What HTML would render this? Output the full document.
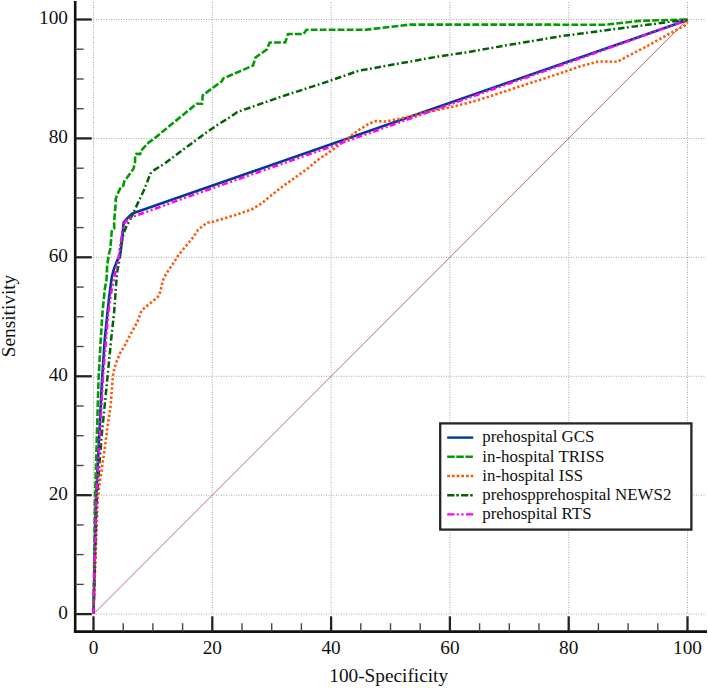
<!DOCTYPE html>
<html><head><meta charset="utf-8"><title>ROC curves</title>
<style>
html,body{margin:0;padding:0;background:#fff;}
body{width:708px;height:688px;overflow:hidden;position:relative;font-family:"Liberation Serif",serif;}
svg{position:absolute;left:0;top:0;}
</style></head><body>
<svg width="708" height="688" viewBox="0 0 708 688">
<line x1="93.5" y1="614.1" x2="705" y2="614.1" stroke="#a8a8a8" stroke-width="1" stroke-dasharray="1 1.5"/>
<line x1="93.5" y1="2" x2="93.5" y2="614.1" stroke="#a8a8a8" stroke-width="1" stroke-dasharray="1 1.5"/>
<line x1="93.5" y1="495.2" x2="705" y2="495.2" stroke="#a8a8a8" stroke-width="1" stroke-dasharray="1 1.5"/>
<line x1="212.3" y1="2" x2="212.3" y2="614.1" stroke="#a8a8a8" stroke-width="1" stroke-dasharray="1 1.5"/>
<line x1="93.5" y1="376.3" x2="705" y2="376.3" stroke="#a8a8a8" stroke-width="1" stroke-dasharray="1 1.5"/>
<line x1="331.1" y1="2" x2="331.1" y2="614.1" stroke="#a8a8a8" stroke-width="1" stroke-dasharray="1 1.5"/>
<line x1="93.5" y1="257.3" x2="705" y2="257.3" stroke="#a8a8a8" stroke-width="1" stroke-dasharray="1 1.5"/>
<line x1="449.9" y1="2" x2="449.9" y2="614.1" stroke="#a8a8a8" stroke-width="1" stroke-dasharray="1 1.5"/>
<line x1="93.5" y1="138.4" x2="705" y2="138.4" stroke="#a8a8a8" stroke-width="1" stroke-dasharray="1 1.5"/>
<line x1="568.7" y1="2" x2="568.7" y2="614.1" stroke="#a8a8a8" stroke-width="1" stroke-dasharray="1 1.5"/>
<line x1="93.5" y1="19.5" x2="705" y2="19.5" stroke="#a8a8a8" stroke-width="1" stroke-dasharray="1 1.5"/>
<line x1="687.5" y1="2" x2="687.5" y2="614.1" stroke="#a8a8a8" stroke-width="1" stroke-dasharray="1 1.5"/>
<line x1="93.5" y1="614.1" x2="687.5" y2="19.5" stroke="#b45048" stroke-width="0.85"/>
<polyline points="93.5,614.0 95.9,500.0 96.7,484.8 99.4,432.4 102.0,380.0 104.7,340.0 107.5,312.3 109.4,295.0 111.8,277.0 113.7,269.8 117.2,260.5 120.1,255.8 121.9,241.9 123.0,230.2 123.6,222.7 126.5,219.2 132.3,213.4 687.5,20.0" fill="none" stroke="#003a90" stroke-width="2.6" stroke-linejoin="round" stroke-linecap="butt"/>
<polyline points="93.5,614.0 95.0,500.0 96.7,441.1 98.5,380.0 100.7,340.0 102.5,312.3 104.8,289.0 106.5,280.0 107.2,265.0 108.9,254.0 110.3,249.0 111.2,238.0 111.7,231.2 112.4,229.4 114.2,228.6 114.1,222.7 115.0,210.4 115.6,205.0 115.7,199.1 117.1,194.8 121.3,186.3 123.2,185.9 124.2,181.6 131.7,171.2 133.6,168.4 135.1,161.7 135.1,155.1 136.5,153.7 140.3,154.2 141.2,150.4 148.8,142.4 153.8,139.0 165.0,129.7 196.5,103.8 202.1,103.8 202.7,95.3 221.9,81.2 223.3,78.4 253.0,65.6 255.5,57.5 266.8,49.5 269.7,42.5 285.2,42.5 288.0,34.0 303.6,34.0 306.4,29.8 365.7,29.8 409.5,24.6 605.5,24.7 639.1,20.9 687.5,19.5" fill="none" stroke="#049a04" stroke-width="2.6" stroke-linejoin="round" stroke-linecap="butt" stroke-dasharray="6.8 2.2"/>
<polyline points="93.5,614.0 97.6,500.0 99.4,484.8 102.0,467.3 104.6,449.9 107.2,428.9 110.6,406.0 112.2,385.1 112.8,377.6 113.4,372.9 114.5,367.7 117.4,359.5 120.9,351.4 123.8,347.3 127.9,339.2 132.0,331.6 134.3,327.6 137.2,322.3 141.5,310.6 148.7,304.5 155.9,298.7 159.2,295.5 160.5,290.8 162.5,282.3 163.8,277.9 168.3,270.6 173.6,262.8 178.1,255.6 184.0,248.4 189.9,241.2 193.2,237.2 198.1,229.8 207.1,222.7 213.9,221.5 236.5,214.7 252.3,209.1 261.4,203.4 279.4,188.8 306.6,169.3 318.4,159.5 325.7,154.7 333.1,149.3 340.7,143.6 349.8,136.6 359.7,129.4 369.5,123.5 375.5,121.1 385.4,121.5 401.7,118.3 411.3,116.2 419.8,113.8 429.4,111.6 438.4,109.8 450.8,107.1 463.3,104.1 478.0,100.2 560.0,73.3 579.8,66.4 598.6,61.4 617.3,61.8 625.3,57.5 650.0,44.6 671.5,32.6 686.3,24.8 687.5,20.5" fill="none" stroke="#ff5808" stroke-width="2.6" stroke-linejoin="round" stroke-linecap="butt" stroke-dasharray="2.4 2.2"/>
<polyline points="93.5,614.0 96.7,500.0 99.4,463.8 102.0,432.4 104.6,406.2 107.2,380.0 111.1,340.0 114.1,312.3 115.8,289.0 117.0,272.8 119.3,260.9 120.1,248.8 123.6,233.7 126.5,226.2 130.0,219.8 132.9,214.0 138.7,201.2 144.5,189.0 150.3,173.8 151.5,172.3 153.7,170.4 165.3,163.1 170.0,159.5 198.2,138.5 210.0,130.0 219.4,123.6 228.3,118.3 237.0,112.2 279.0,97.4 328.5,81.3 340.0,77.2 358.5,70.8 440.0,56.2 468.0,52.2 500.0,46.4 540.0,39.8 560.0,36.3 687.5,19.5" fill="none" stroke="#036003" stroke-width="2.5" stroke-linejoin="round" stroke-linecap="butt" stroke-dasharray="6.6 2.5 1.8 2.8"/>
<polyline points="93.5,614.0 96.2,500.0 97.2,484.8 100.0,432.4 102.8,380.0 106.0,340.0 108.3,312.3 111.8,289.0 113.7,280.0 116.0,269.8 119.0,254.7 121.3,238.4 123.6,224.4 125.9,221.2 131.6,217.0 152.5,209.7 180.0,199.6 340.0,143.5 470.0,97.3 560.0,65.6 687.5,20.0" fill="none" stroke="#ff00ff" stroke-width="2.5" stroke-linejoin="round" stroke-linecap="butt" stroke-dasharray="6 2.6 2 2.6 2 2.6"/>
<line x1="75.2" y1="1" x2="75.2" y2="632.8000000000001" stroke="#111" stroke-width="2.6"/>
<line x1="73.9" y1="631.6" x2="707" y2="631.6" stroke="#111" stroke-width="2.6"/>
<line x1="75.2" y1="614.1" x2="91.80000000000001" y2="614.1" stroke="#222" stroke-width="2.3"/>
<line x1="93.5" y1="631.6" x2="93.5" y2="616.3000000000001" stroke="#222" stroke-width="2.3"/>
<line x1="75.2" y1="584.4" x2="83.7" y2="584.4" stroke="#484848" stroke-width="1.4"/>
<line x1="123.2" y1="631.6" x2="123.2" y2="623.2" stroke="#484848" stroke-width="1.4"/>
<line x1="75.2" y1="554.6" x2="83.7" y2="554.6" stroke="#484848" stroke-width="1.4"/>
<line x1="152.9" y1="631.6" x2="152.9" y2="623.2" stroke="#484848" stroke-width="1.4"/>
<line x1="75.2" y1="524.9" x2="83.7" y2="524.9" stroke="#484848" stroke-width="1.4"/>
<line x1="182.6" y1="631.6" x2="182.6" y2="623.2" stroke="#484848" stroke-width="1.4"/>
<line x1="75.2" y1="495.2" x2="91.80000000000001" y2="495.2" stroke="#222" stroke-width="2.3"/>
<line x1="212.3" y1="631.6" x2="212.3" y2="616.3000000000001" stroke="#222" stroke-width="2.3"/>
<line x1="75.2" y1="465.5" x2="83.7" y2="465.5" stroke="#484848" stroke-width="1.4"/>
<line x1="242.0" y1="631.6" x2="242.0" y2="623.2" stroke="#484848" stroke-width="1.4"/>
<line x1="75.2" y1="435.7" x2="83.7" y2="435.7" stroke="#484848" stroke-width="1.4"/>
<line x1="271.7" y1="631.6" x2="271.7" y2="623.2" stroke="#484848" stroke-width="1.4"/>
<line x1="75.2" y1="406.0" x2="83.7" y2="406.0" stroke="#484848" stroke-width="1.4"/>
<line x1="301.4" y1="631.6" x2="301.4" y2="623.2" stroke="#484848" stroke-width="1.4"/>
<line x1="75.2" y1="376.3" x2="91.80000000000001" y2="376.3" stroke="#222" stroke-width="2.3"/>
<line x1="331.1" y1="631.6" x2="331.1" y2="616.3000000000001" stroke="#222" stroke-width="2.3"/>
<line x1="75.2" y1="346.5" x2="83.7" y2="346.5" stroke="#484848" stroke-width="1.4"/>
<line x1="360.8" y1="631.6" x2="360.8" y2="623.2" stroke="#484848" stroke-width="1.4"/>
<line x1="75.2" y1="316.8" x2="83.7" y2="316.8" stroke="#484848" stroke-width="1.4"/>
<line x1="390.5" y1="631.6" x2="390.5" y2="623.2" stroke="#484848" stroke-width="1.4"/>
<line x1="75.2" y1="287.1" x2="83.7" y2="287.1" stroke="#484848" stroke-width="1.4"/>
<line x1="420.2" y1="631.6" x2="420.2" y2="623.2" stroke="#484848" stroke-width="1.4"/>
<line x1="75.2" y1="257.3" x2="91.80000000000001" y2="257.3" stroke="#222" stroke-width="2.3"/>
<line x1="449.9" y1="631.6" x2="449.9" y2="616.3000000000001" stroke="#222" stroke-width="2.3"/>
<line x1="75.2" y1="227.6" x2="83.7" y2="227.6" stroke="#484848" stroke-width="1.4"/>
<line x1="479.6" y1="631.6" x2="479.6" y2="623.2" stroke="#484848" stroke-width="1.4"/>
<line x1="75.2" y1="197.9" x2="83.7" y2="197.9" stroke="#484848" stroke-width="1.4"/>
<line x1="509.3" y1="631.6" x2="509.3" y2="623.2" stroke="#484848" stroke-width="1.4"/>
<line x1="75.2" y1="168.2" x2="83.7" y2="168.2" stroke="#484848" stroke-width="1.4"/>
<line x1="539.0" y1="631.6" x2="539.0" y2="623.2" stroke="#484848" stroke-width="1.4"/>
<line x1="75.2" y1="138.4" x2="91.80000000000001" y2="138.4" stroke="#222" stroke-width="2.3"/>
<line x1="568.7" y1="631.6" x2="568.7" y2="616.3000000000001" stroke="#222" stroke-width="2.3"/>
<line x1="75.2" y1="108.7" x2="83.7" y2="108.7" stroke="#484848" stroke-width="1.4"/>
<line x1="598.4" y1="631.6" x2="598.4" y2="623.2" stroke="#484848" stroke-width="1.4"/>
<line x1="75.2" y1="79.0" x2="83.7" y2="79.0" stroke="#484848" stroke-width="1.4"/>
<line x1="628.1" y1="631.6" x2="628.1" y2="623.2" stroke="#484848" stroke-width="1.4"/>
<line x1="75.2" y1="49.2" x2="83.7" y2="49.2" stroke="#484848" stroke-width="1.4"/>
<line x1="657.8" y1="631.6" x2="657.8" y2="623.2" stroke="#484848" stroke-width="1.4"/>
<line x1="75.2" y1="19.5" x2="91.80000000000001" y2="19.5" stroke="#222" stroke-width="2.3"/>
<line x1="687.5" y1="631.6" x2="687.5" y2="616.3000000000001" stroke="#222" stroke-width="2.3"/>
<text x="68" y="618.8" text-anchor="end" font-size="19.3" font-family="Liberation Serif" fill="#111">0</text>
<text x="93.5" y="653.8" text-anchor="middle" font-size="19.3" font-family="Liberation Serif" fill="#111">0</text>
<text x="68" y="499.9" text-anchor="end" font-size="19.3" font-family="Liberation Serif" fill="#111">20</text>
<text x="212.3" y="653.8" text-anchor="middle" font-size="19.3" font-family="Liberation Serif" fill="#111">20</text>
<text x="68" y="381.0" text-anchor="end" font-size="19.3" font-family="Liberation Serif" fill="#111">40</text>
<text x="331.1" y="653.8" text-anchor="middle" font-size="19.3" font-family="Liberation Serif" fill="#111">40</text>
<text x="68" y="262.0" text-anchor="end" font-size="19.3" font-family="Liberation Serif" fill="#111">60</text>
<text x="449.9" y="653.8" text-anchor="middle" font-size="19.3" font-family="Liberation Serif" fill="#111">60</text>
<text x="68" y="143.1" text-anchor="end" font-size="19.3" font-family="Liberation Serif" fill="#111">80</text>
<text x="568.7" y="653.8" text-anchor="middle" font-size="19.3" font-family="Liberation Serif" fill="#111">80</text>
<text x="68" y="24.2" text-anchor="end" font-size="19.3" font-family="Liberation Serif" fill="#111">100</text>
<text x="687.5" y="653.8" text-anchor="middle" font-size="19.3" font-family="Liberation Serif" fill="#111">100</text>
<text x="388.7" y="681.8" text-anchor="middle" font-size="19.3" font-family="Liberation Serif" fill="#111">100-Specificity</text>
<text transform="translate(14.5,316) rotate(-90)" x="0" y="0" text-anchor="middle" font-size="19.3" font-family="Liberation Serif" fill="#111">Sensitivity</text>
<rect x="440.2" y="423.4" width="251.2" height="106.20000000000005" fill="#fff" stroke="#262626" stroke-width="2.3"/>
<line x1="447.2" y1="437.6" x2="473.2" y2="437.6" stroke="#003a90" stroke-width="2.4"/>
<text x="482.3" y="442.4" font-size="16.9" font-family="Liberation Serif" fill="#111">prehospital GCS</text>
<line x1="447.2" y1="456.8" x2="473.2" y2="456.8" stroke="#049a04" stroke-width="2.4" stroke-dasharray="7.5 1.6"/>
<text x="482.3" y="461.6" font-size="16.9" font-family="Liberation Serif" fill="#111">in-hospital TRISS</text>
<line x1="447.2" y1="476.0" x2="473.2" y2="476.0" stroke="#ff5808" stroke-width="2.5" stroke-dasharray="2.7 2.0"/>
<text x="482.3" y="480.8" font-size="16.9" font-family="Liberation Serif" fill="#111">in-hospital ISS</text>
<line x1="447.2" y1="495.2" x2="473.2" y2="495.2" stroke="#036003" stroke-width="2.4" stroke-dasharray="7.2 1.9 2.5 2.3"/>
<text x="482.3" y="500.0" font-size="16.9" font-family="Liberation Serif" fill="#111">prehospprehospital NEWS2</text>
<line x1="447.2" y1="514.4" x2="473.2" y2="514.4" stroke="#ff00ff" stroke-width="2.4" stroke-dasharray="7.3 2.2 2.1 2.6 2.2 2.4"/>
<text x="482.3" y="519.2" font-size="16.9" font-family="Liberation Serif" fill="#111">prehospital RTS</text>
</svg>
</body></html>
